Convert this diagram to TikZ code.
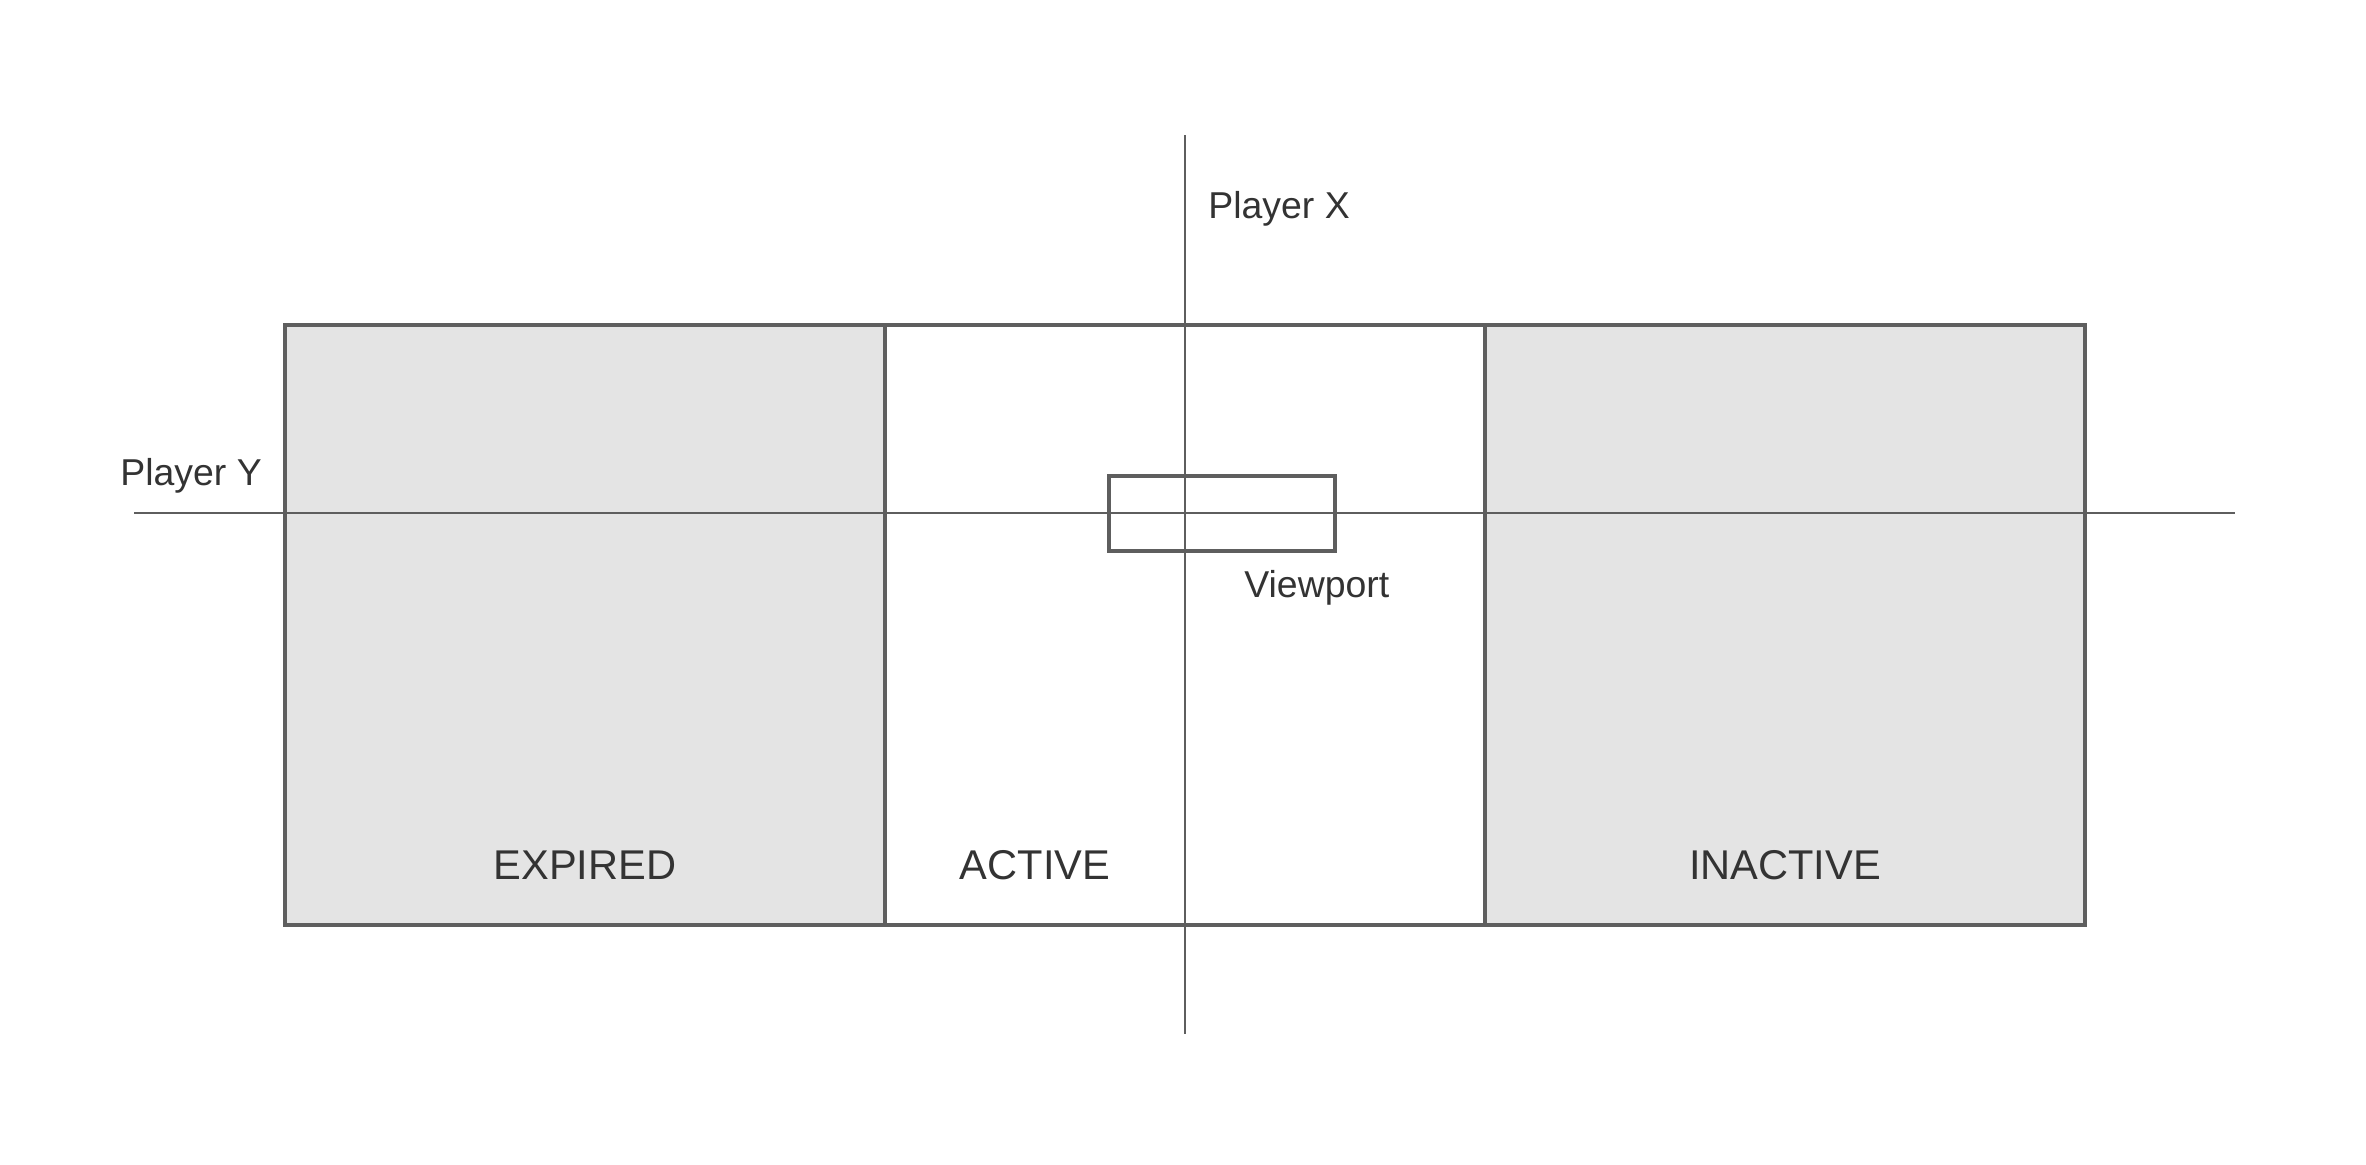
\documentclass[tikz,border=0pt]{standalone}
\usepackage{fontspec}
\setmainfont{Liberation Sans}
\definecolor{edgegray}{RGB}{94,94,94}
\definecolor{panelfill}{RGB}{228,228,228}
\definecolor{txtgray}{RGB}{51,51,51}
\tikzset{
  panel/.style={draw=edgegray, line width=2pt, minimum width=300pt, minimum height=300pt, inner sep=0pt, outer sep=0pt},
  greypanel/.style={panel, fill=panelfill},
  axisline/.style={draw=edgegray, line width=1pt},
  axislineh/.style={draw=edgegray, line width=0.6pt},
  viewbox/.style={draw=edgegray, line width=1.75pt, minimum width=113pt, minimum height=37.5pt, inner sep=0pt, outer sep=0pt},
  smalllabel/.style={text=txtgray, font=\fontsize{18.7pt}{22pt}\selectfont, inner sep=0pt},
  biglabel/.style={text=txtgray, font=\fontsize{20.8pt}{24pt}\selectfont, inner sep=0pt, anchor=base}
}
\begin{document}
\begin{tikzpicture}[x=0.5pt,y=-0.5pt]
\useasboundingbox (0,0) rectangle (2366,1164);
% panels (fills)
\node[greypanel] (expired) at (585,625) {};
\node[panel, fill=white] (active) at (1185,625) {};
\node[greypanel] (inactive) at (1785,625) {};
% axis line end points
\coordinate (xtop) at (1185,135);
\coordinate (xbot) at (1185,1034);
\coordinate (yleft) at (134,513);
\coordinate (yright) at (2235,513);
\draw[axislineh] (yleft) -- (yright);
\draw[axisline] (xtop) -- (xbot);
% borders redrawn over the lines
\draw[draw=edgegray, line width=2pt] (expired.north west) rectangle (inactive.south east);
\draw[draw=edgegray, line width=2pt] (active.north west) -- (active.south west);
\draw[draw=edgegray, line width=2pt] (active.north east) -- (active.south east);
% viewport
\node[viewbox] (viewport) at (1222,513.5) {};
% labels
\node[smalllabel, anchor=base west] (playerx) at (1208,218) {Player X};
\node[smalllabel, anchor=base west] (playery) at (120,485) {Player Y};
\node[smalllabel, anchor=base west] (viewlbl) at (1244,597) {Viewport};
\node[biglabel] (expiredlbl) at (585,879) {EXPIRED};
\node[biglabel] (activelbl) at (1035,879) {ACTIVE};
\node[biglabel] (inactivelbl) at (1785,879) {INACTIVE};
\end{tikzpicture}
\end{document}
